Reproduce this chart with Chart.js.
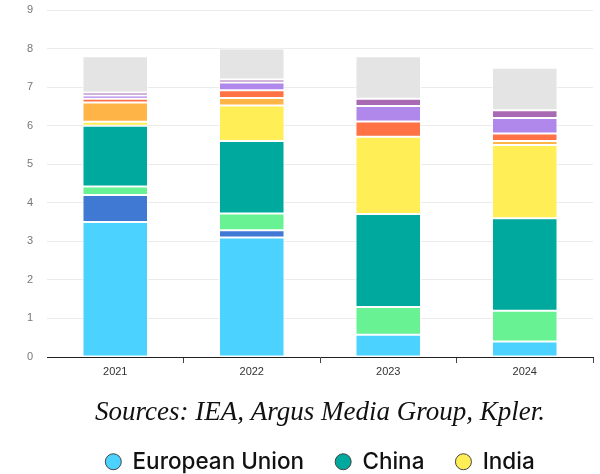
<!DOCTYPE html>
<html><head><meta charset="utf-8">
<script src="https://cdn.jsdelivr.net/npm/chart.js@4"></script>
<style>html,body{margin:0;padding:0;background:#fff}#wrap{width:600px;height:474px;position:relative}</style>
</head><body><div id="wrap"><canvas id="c"></canvas></div>
<script>
const years = ['2021', '2022', '2023', '2024'];
const euValues = [3.5, 3.1, 0.58, 0.4];
const blueValues = [0.7, 0.19, 0, 0];
const greenValues = [0.22, 0.43, 0.72, 0.8];
const chinaValues = [1.58, 1.88, 2.41, 2.4];
const indiaValues = [0.1, 0.92, 2.0, 1.9];
const orangeValues = [0.5, 0.2, 0, 0.1];
const redValues = [0.1, 0.2, 0.4, 0.2];
const lilacValues = [0.08, 0.2, 0.4, 0.4];
const plumValues = [0.08, 0.08, 0.19, 0.2];
const greyValues = [0.94, 0.8, 1.1, 1.1];
const legendShown = ['European Union', 'China', 'India'];
const sourceText = 'Sources: IEA, Argus Media Group, Kpler.';

const series = [
  ['European Union', euValues, '#4bd2ff'],
  ['Other 1', blueValues, '#3f79d4'],
  ['Other 2', greenValues, '#69f293'],
  ['China', chinaValues, '#00a99d'],
  ['India', indiaValues, '#ffee55'],
  ['Other 3', orangeValues, '#ffb448'],
  ['Other 4', redValues, '#ff7245'],
  ['Other 5', lilacValues, '#b087ea'],
  ['Other 6', plumValues, '#a86bb3'],
  ['Other 7', greyValues, '#e4e4e4']
];

const datasets = series.map(([label, data, color]) => ({
  label, data,
  backgroundColor: color,
  borderColor: 'rgba(255,255,255,0.75)',
  borderWidth: 1,
  borderSkipped: false,
  categoryPercentage: 0.8,
  barPercentage: 0.6
}));

new Chart(document.getElementById('c'), {
  type: 'bar',
  data: { labels: years, datasets },
  options: {
    responsive: true,
    maintainAspectRatio: false,
    animation: false,
    devicePixelRatio: 1,
    layout: { padding: { top: 10, right: 7, bottom: -9, left: 0 } },
    plugins: {
      tooltip: { enabled: false },
      title: {
        display: true,
        position: 'bottom',
        fullSize: false,
        text: sourceText,
        weight: 500,
        color: '#111',
        font: { family: 'Liberation Serif', style: 'italic', size: 27, weight: 'normal', lineHeight: 0.5 },
        padding: { top: 25, bottom: 0 }
      },
      legend: {
        display: true,
        position: 'bottom',
        fullSize: false,
        weight: 1000,
        labels: {
          usePointStyle: true,
          pointStyle: 'circle',
          pointStyleWidth: 16,
          boxHeight: 11.3,
          padding: 31,
          color: '#111',
          font: { family: 'Inter', size: 22.5, weight: '500' },
          filter: (item) => legendShown.includes(item.text),
          generateLabels: (chart) => Chart.defaults.plugins.legend.labels.generateLabels(chart).map(it => Object.assign(it, { strokeStyle: '#444', lineWidth: 1 }))
        }
      }
    },
    scales: {
      x: {
        stacked: true,
        grid: {
          offset: true,
          drawOnChartArea: false,
          drawTicks: true,
          tickLength: 6,
          color: (ctx) => ctx.index === 0 ? 'rgba(0,0,0,0)' : '#444'
        },
        border: { display: true, color: '#222', width: 1 },
        ticks: { color: '#333', padding: 2, font: { family: 'Liberation Sans', size: 11 } },
        afterFit: (s) => { s.height = 24; }
      },
      y: {
        stacked: true,
        min: 0,
        max: 9,
        ticks: { stepSize: 1, color: '#777', padding: 3, font: { family: 'Liberation Sans', size: 11 } },
        grid: { color: '#ebebeb', drawTicks: true, tickLength: 11, tickColor: 'rgba(0,0,0,0)' },
        border: { display: false },
        afterFit: (s) => { s.width = 47; }
      }
    }
  }
});
</script></body></html>
